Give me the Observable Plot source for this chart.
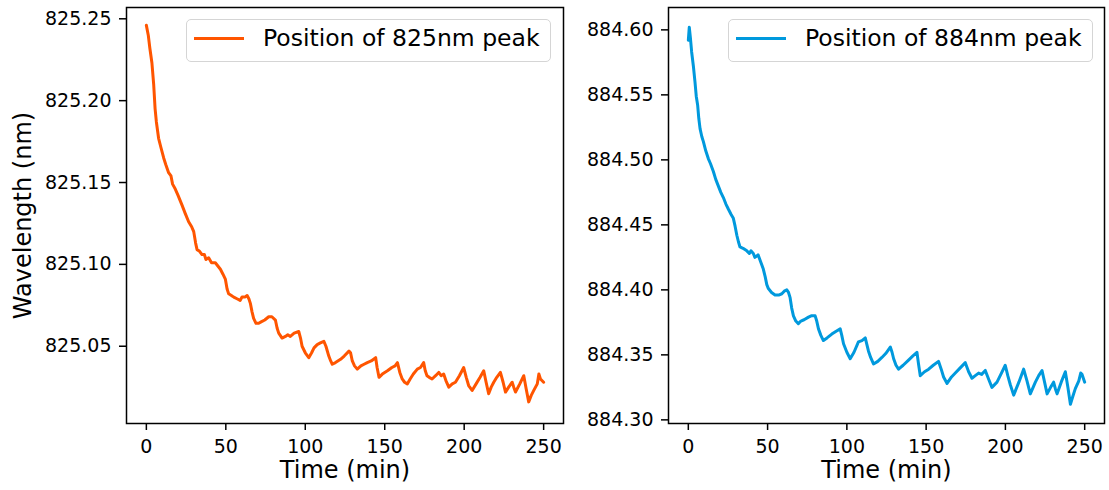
<!DOCTYPE html>
<html><head><meta charset="utf-8">
<script src="https://cdn.jsdelivr.net/npm/d3@7"></script>
<script src="https://cdn.jsdelivr.net/npm/@observablehq/plot@0.6"></script>
<style>
body{margin:0;background:#fff;}
#wrap{position:relative;width:1109px;height:490px;font-family:"DejaVu Sans";overflow:hidden;}
.panel{position:absolute;top:0;}
.legend{position:absolute;top:19px;height:43px;border:1.3px solid #d5d5d5;border-radius:5px;background:rgba(255,255,255,0.8);box-sizing:border-box;}
.sw{position:absolute;height:3px;width:50px;}
.lt{position:absolute;font-size:23.5px;line-height:28px;white-space:nowrap;color:#000;}
</style></head>
<body><div id="wrap"></div>
<script>
const xTicks = [0, 50, 100, 150, 200, 250];
const yTicksOrange = [825.05, 825.10, 825.15, 825.20, 825.25];
const yTicksBlue = [884.30, 884.35, 884.40, 884.45, 884.50, 884.55, 884.60];
const xLabel = "Time (min)";
const yLabel = "Wavelength (nm)";
const labelOrange = "Position of 825nm peak";
const labelBlue = "Position of 884nm peak";

const timeOrange = [0,1.2,2.2,3.5,4.6,5.5,6.3,7.7,9.0,10.9,12.2,14.0,15.5,16.5,18.2,20.0,22.5,24.5,26.6,28.5,29.8,31.0,31.9,33.5,35.0,36.5,37.5,39.2,41.0,43.4,45.0,46.6,48.2,49.7,50.8,51.8,53.5,55.0,57.0,59.0,60.2,62.0,63.4,64.5,65.5,66.5,67.5,69.0,70.7,72.5,74.5,77.0,79.0,81.2,82.3,83.3,85.4,87.5,89.0,90.6,93.0,95.9,97.0,98.0,100.0,102.2,104.0,105.5,107.5,109.5,111.7,113.0,114.8,116.0,117.0,119.0,122.2,124.5,127.5,128.5,129.6,131.0,132.7,135.0,137.0,139.0,141.5,144.3,145.2,146.4,148.5,150.0,151.7,154.5,156.5,158.0,159.5,161.0,162.5,164.2,166.0,168.0,170.5,172.5,174.5,175.5,176.6,178.0,179.8,182.0,184.0,185.5,187.1,188.5,190.3,192.5,194.5,197.0,199.7,201.3,202.8,205.0,207.5,210.0,212.3,213.8,215.4,217.0,218.6,220.5,222.8,224.5,226.0,228.0,230.2,231.2,232.3,235.0,237.5,239.0,240.6,242.2,243.8,246.0,247.0,248.0,250.0];
const wlOrange = [825.246,825.240,825.232,825.223,825.210,825.195,825.187,825.177,825.172,825.165,825.161,825.156,825.154,825.149,825.146,825.142,825.136,825.131,825.126,825.123,825.120,825.113,825.109,825.108,825.106,825.106,825.103,825.104,825.101,825.101,825.099,825.097,825.094,825.091,825.085,825.082,825.081,825.080,825.079,825.078,825.080,825.080,825.081,825.079,825.076,825.071,825.067,825.064,825.064,825.065,825.066,825.068,825.068,825.066,825.061,825.058,825.055,825.056,825.057,825.056,825.058,825.059,825.055,825.050,825.046,825.043,825.046,825.049,825.051,825.052,825.053,825.050,825.044,825.041,825.039,825.040,825.042,825.044,825.047,825.046,825.041,825.038,825.036,825.038,825.039,825.040,825.041,825.043,825.037,825.031,825.033,825.034,825.035,825.037,825.038,825.040,825.034,825.030,825.028,825.027,825.030,825.033,825.036,825.037,825.040,825.035,825.032,825.031,825.030,825.032,825.034,825.032,825.033,825.029,825.025,825.027,825.028,825.032,825.037,825.031,825.026,825.023,825.027,825.031,825.035,825.028,825.021,825.025,825.028,825.031,825.034,825.028,825.022,825.025,825.028,825.025,825.022,825.027,825.032,825.024,825.016,825.020,825.023,825.027,825.033,825.030,825.028];

const timeBlue = [0,0.6,1.3,2.1,3.2,4.2,5.0,5.9,6.6,7.4,8.5,9.5,11.0,12.6,14.0,15.8,17.3,18.9,20.5,22.1,23.7,25.3,27.0,28.4,29.5,30.6,31.6,32.6,34.5,36.9,38.5,39.5,41.0,42.0,43.2,44.0,45.5,47.3,48.5,49.5,50.5,52.5,54.7,57.0,59.0,60.5,62.1,63.2,64.2,65.2,66.3,67.8,69.4,71.0,73.0,75.8,77.5,80.0,81.0,82.1,83.6,85.2,87.5,90.5,93.0,95.8,96.8,97.9,100.0,102.1,104.5,107.3,109.5,111.6,112.6,113.6,115.0,116.8,119.5,122.1,124.5,127.4,128.5,129.5,131.0,132.6,135.5,138.9,141.5,144.2,145.2,146.3,149.0,151.6,154.5,157.8,159.5,161.0,163.2,166.0,168.4,171.5,174.7,176.8,178.9,181.0,183.1,185.0,187.3,189.5,191.5,194.7,197.5,199.9,201.5,203.1,205.2,208.5,211.5,213.6,215.7,218.9,221.0,223.1,224.7,226.3,228.5,230.4,231.5,232.6,235.2,237.8,239.4,241.0,242.5,244.1,246.3,247.5,248.3,250.0];
const wlBlue = [884.592,884.602,884.594,884.583,884.572,884.560,884.549,884.542,884.532,884.524,884.518,884.514,884.507,884.501,884.497,884.491,884.485,884.480,884.475,884.471,884.466,884.462,884.458,884.455,884.449,884.442,884.437,884.433,884.432,884.430,884.428,884.430,884.428,884.425,884.426,884.427,884.422,884.416,884.410,884.404,884.401,884.398,884.396,884.396,884.397,884.399,884.400,884.398,884.394,884.386,884.380,884.376,884.374,884.376,884.377,884.379,884.380,884.380,884.376,884.370,884.365,884.361,884.363,884.366,884.368,884.370,884.365,884.3585,884.352,884.347,884.352,884.360,884.361,884.363,884.358,884.353,884.348,884.343,884.345,884.348,884.351,884.356,884.352,884.347,884.342,884.339,884.342,884.346,884.349,884.352,884.343,884.334,884.337,884.339,884.342,884.345,884.339,884.333,884.328,884.333,884.336,884.340,884.344,884.337,884.332,884.334,884.336,884.335,884.338,884.331,884.325,884.329,884.336,884.342,884.334,884.327,884.319,884.329,884.339,884.330,884.320,884.329,884.334,884.338,884.329,884.320,884.325,884.329,884.324,884.320,884.329,884.337,884.325,884.312,884.318,884.324,884.330,884.336,884.335,884.329];

const orangeData = timeOrange.map((t, i) => ({t, v: wlOrange[i]}));
const blueData = timeBlue.map((t, i) => ({t, v: wlBlue[i]}));

function panel(data, color, yDomain, yTicks, opts) {
  const marks = [
    Plot.line(data, {x: "t", y: "v", stroke: color, strokeWidth: 3}),
    Plot.frame({stroke: "#000", strokeWidth: 1.5}),
    Plot.axisX({ticks: xTicks, tickSize: 7, tickPadding: 9, strokeWidth: 1.5, label: null, fontSize: 19, tickFormat: d => String(d)}),
    Plot.axisY({ticks: yTicks, tickSize: 7, tickPadding: 8, strokeWidth: 1.5, label: null, fontSize: 19, tickFormat: d3.format(".2f")}),
    Plot.text([xLabel], {frameAnchor: "bottom", textAnchor: "middle", lineAnchor: "middle", dy: 47, fontSize: 24, fill: "#000"})
  ];
  if (opts.yLabel) marks.push(Plot.text([yLabel], {frameAnchor: "left", textAnchor: "middle", lineAnchor: "middle", dx: -103, rotate: -90, fontSize: 24, fill: "#000"}));
  return Plot.plot({
    width: opts.width, height: 490,
    marginLeft: opts.ml, marginRight: opts.mr, marginTop: 7, marginBottom: 67,
    style: {fontFamily: "DejaVu Sans", fontSize: "19px", color: "#000", background: "transparent", overflow: "visible"},
    x: {domain: [-12.5, 262.5]},
    y: {domain: yDomain},
    marks
  });
}

const wrap = document.getElementById("wrap");
const p1 = panel(orangeData, "#ff5500", [825.0028, 825.2569], yTicksOrange, {width: 575, ml: 126, mr: 12, yLabel: true});
const p2 = panel(blueData, "#0099dd", [884.2972, 884.6172], yTicksBlue, {width: 534, ml: 93, mr: 5, yLabel: false});
const d1 = document.createElement("div"); d1.className = "panel"; d1.style.left = "0px"; d1.appendChild(p1); wrap.appendChild(d1);
const d2 = document.createElement("div"); d2.className = "panel"; d2.style.left = "575px"; d2.appendChild(p2); wrap.appendChild(d2);

function legend(left, width, color, text) {
  const box = document.createElement("div");
  box.className = "legend"; box.style.left = left + "px"; box.style.width = width + "px";
  wrap.appendChild(box);
  const sw = document.createElement("div");
  sw.className = "sw"; sw.style.left = (left + 8) + "px"; sw.style.top = "37px"; sw.style.background = color;
  wrap.appendChild(sw);
  const lt = document.createElement("div");
  lt.className = "lt"; lt.style.left = (left + 77) + "px"; lt.style.top = "24px"; lt.textContent = text;
  wrap.appendChild(lt);
}
legend(186, 365, "#ff5500", labelOrange);
legend(728, 365, "#0099dd", labelBlue);
</script></body></html>
